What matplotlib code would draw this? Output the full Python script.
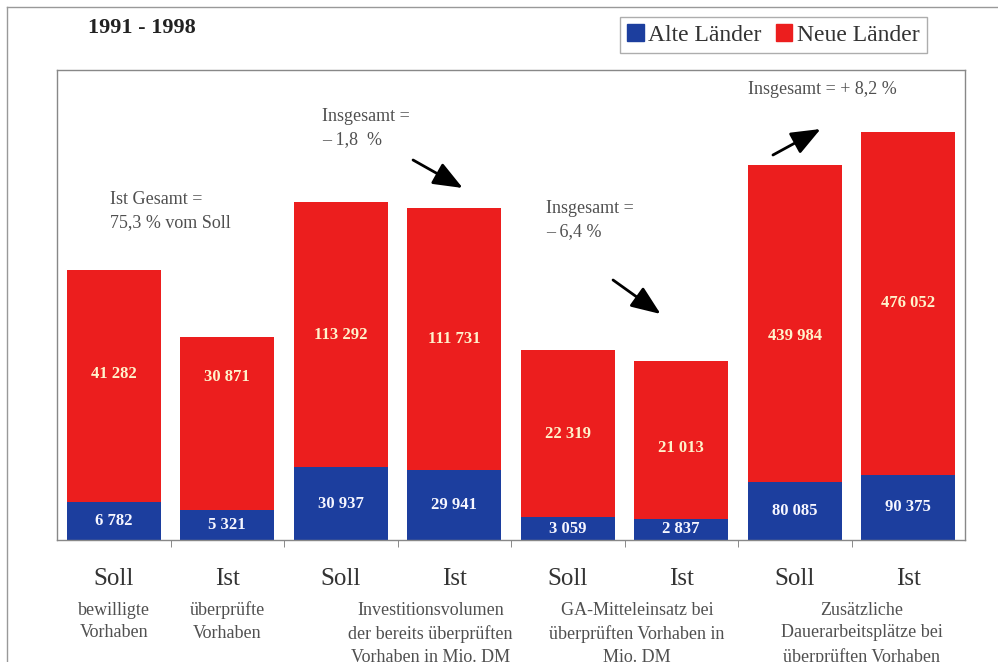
import matplotlib.pyplot as plt
from matplotlib.lines import Line2D
from matplotlib.patches import Patch

plt.rcParams['font.family'] = ['Liberation Serif', 'DejaVu Serif']

# Soll/Ist pairs for the four indicators, 1991 - 1998
bar_labels = ['Soll', 'Ist', 'Soll', 'Ist', 'Soll', 'Ist', 'Soll', 'Ist']
alte_laender = [6782, 5321, 30937, 29941, 3059, 2837, 80085, 90375]
neue_laender = [41282, 30871, 113292, 111731, 22319, 21013, 439984, 476052]
bar_group = [0, 0, 1, 1, 2, 2, 3, 3]
group_texts = ['Investitionsvolumen\nder bereits überprüften\nVorhaben in Mio. DM',
               'GA-Mitteleinsatz bei\nüberprüften Vorhaben in\nMio. DM',
               'Zusätzliche\nDauerarbeitsplätze bei\nüberprüften Vorhaben']
first_group_texts = ['bewilligte\nVorhaben', 'überprüfte\nVorhaben']

# each indicator has its own scale: height of the Soll bar on the axis
soll_height = [270, 338, 190, 375]
red_label_pos = [0.55, 0.77, 0.5, 0.5, 0.5, 0.45, 0.46, 0.5]

RED = '#EC1E1E'
BLUE = '#1C3E9E'

soll_total = {}
for i, g in enumerate(bar_group):
    if bar_labels[i] == 'Soll':
        soll_total[g] = alte_laender[i] + neue_laender[i]

fig = plt.figure(figsize=(9.98, 6.62), dpi=100)
ax = fig.add_axes([57 / 998, 1 - 540 / 662, 908 / 998, 470 / 662])

x = list(range(len(bar_labels)))
blue_h = []
red_h = []
for i, g in enumerate(bar_group):
    k = soll_height[g] / soll_total[g]
    blue_h.append(alte_laender[i] * k)
    red_h.append(neue_laender[i] * k)

ax.bar(x, blue_h, width=0.83, color=BLUE)
ax.bar(x, red_h, width=0.83, bottom=blue_h, color=RED)

for i in x:
    ax.text(i, blue_h[i] / 2, f'{alte_laender[i]:,}'.replace(',', ' '),
            ha='center', va='center', color='#F6F6FF', fontsize=12, fontweight='bold')
    ax.text(i, blue_h[i] + red_h[i] * red_label_pos[i],
            f'{neue_laender[i]:,}'.replace(',', ' '),
            ha='center', va='center', color='#FFF3CC', fontsize=12, fontweight='bold')

ax.set_xlim(-0.5, 7.5)
ax.set_ylim(0, 470)
ax.set_yticks([])
ax.set_xticks(x, bar_labels, fontsize=18, color='#333333')
ax.set_xticks([i + 0.5 for i in x[:-1]], minor=True)
ax.tick_params(axis='x', which='major', length=0, pad=20)
ax.tick_params(axis='x', which='minor', length=5, color='#777777')
for s in ax.spines.values():
    s.set_color('#888888')
    s.set_linewidth(1)

# descriptions under the bars
tr = ax.get_xaxis_transform()
for i, t in enumerate(first_group_texts):
    ax.text(i, -0.131, t, transform=tr, ha='center', va='top', fontsize=13,
            color='#505050', linespacing=1.45)
for t, xc in zip(group_texts, [2.79, 4.61, 6.59]):
    ax.text(xc, -0.131, t, transform=tr, ha='center', va='top', fontsize=13,
            color='#505050', linespacing=1.45)

# change notes with arrows
note = dict(ha='left', va='center', fontsize=13, color='#505050', linespacing=1.45)
ax.text(-0.033, 329, 'Ist Gesamt =\n75,3 % vom Soll', **note)
ax.text(1.835, 412, 'Insgesamt =\n– 1,8  %', **note)
ax.text(3.808, 320, 'Insgesamt =\n– 6,4 %', **note)
ax.text(5.588, 451, 'Insgesamt = + 8,2 %', **note)
arrow = dict(arrowstyle='-|>,head_length=0.5,head_width=0.2', color='black',
             lw=2, mutation_scale=36, shrinkA=0, shrinkB=0)
ax.annotate('', xy=(3.075, 352), xytext=(2.637, 380), arrowprops=arrow)
ax.annotate('', xy=(4.818, 226), xytext=(4.399, 260), arrowprops=arrow)
ax.annotate('', xy=(6.228, 411), xytext=(5.808, 385), arrowprops=arrow)

fig.text(88 / 998, 1 - 28 / 662, '1991 - 1998', ha='left', va='center',
         fontsize=16, fontweight='bold', color='#222222')

handles = [Patch(color=BLUE, label='Alte Länder'), Patch(color=RED, label='Neue Länder')]
leg = fig.legend(handles=handles, loc='upper left', bbox_to_anchor=(620 / 998, 1 - 17 / 662),
                 ncol=2, fontsize=17, frameon=True, fancybox=False, borderaxespad=0,
                 handlelength=0.7, handleheight=0.7, handletextpad=0.2, columnspacing=0.6,
                 borderpad=0.3)
leg.get_frame().set_edgecolor('#999999')
leg.get_frame().set_linewidth(1)
for t in leg.get_texts():
    t.set_color('#333333')

# outer frame (left and top)
fig.add_artist(Line2D([7 / 998, 7 / 998], [0, 1 - 7 / 662], color='#999999', lw=1))
fig.add_artist(Line2D([7 / 998, 1], [1 - 7 / 662, 1 - 7 / 662], color='#999999', lw=1))

fig.savefig('out.png', dpi=100)
